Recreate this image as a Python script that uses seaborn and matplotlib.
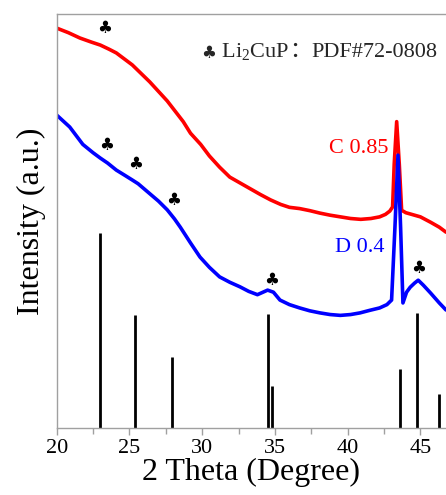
import numpy as np
import pandas as pd
import matplotlib
matplotlib.use("Agg")
import matplotlib.pyplot as plt
import seaborn as sns

# sample C 0.85 (red)
c_theta = [20.0, 20.8, 21.6, 22.4, 23.0, 23.6, 24.1, 25.2, 26.4, 27.6, 28.7, 29.2, 29.9, 30.5,
           31.2, 31.9, 32.6, 33.3, 34.0, 34.7, 35.4, 36.0, 36.7, 37.4, 38.1, 38.8, 39.5,
           40.2, 40.9, 41.6, 42.2, 42.6, 42.9, 43.09, 43.2, 43.37, 43.55, 43.71, 44.0,
           44.5, 45.0, 45.7, 46.3, 46.76]
c_int = [966, 955, 942, 932, 925, 915, 906, 877, 836, 790, 740, 712, 685, 657,
         630, 606, 592, 578, 564, 551, 540, 533, 530, 525, 519, 514, 510,
         506, 504, 506, 510, 516, 524, 534, 637, 740, 637, 526, 520,
         515, 510, 497, 485, 473]

# sample D 0.4 (blue)
d_theta = [20.0, 20.9, 21.8, 22.5, 23.0, 23.5, 24.1, 24.7, 25.2, 25.6, 26.4, 27.0, 27.6, 28.1,
           28.5, 29.2, 29.85, 30.5, 31.2, 31.9, 32.6, 33.2, 33.8, 34.5, 34.9, 35.35, 36.0,
           36.7, 37.4, 38.1, 38.8, 39.5, 40.2, 40.85, 41.5, 42.2, 42.7, 43.02, 43.25,
           43.46, 43.64, 43.8, 44.05, 44.3, 44.6, 44.85, 45.2, 45.7, 46.3, 46.76]
d_int = [756, 727, 685, 665, 652, 640, 623, 610, 599, 590, 566, 548, 527, 505,
         485, 447, 413, 388, 365, 352, 341, 330, 322, 333, 328, 309, 298,
         290, 283, 278, 274, 272, 274, 278, 284, 290, 298, 309, 484,
         659, 484, 302, 328, 340, 350, 357, 345, 326, 302, 285]

# Li2CuP reference pattern PDF#72-0808
ref_theta = [23.0, 25.4, 27.92, 34.5, 34.82, 43.6, 44.8, 46.3]
ref_int = [471, 273, 172, 275, 101, 142, 278, 82]

# club markers (angle, height)
club_theta = [23.3, 23.4, 25.4, 28.06, 34.8, 44.9]
club_int = [966, 684, 638, 551, 357, 387]

serif = "Liberation Serif"

fig = plt.figure(figsize=(4.46, 4.95), dpi=100)
ax = fig.add_axes([0.127, 0.1354, 0.873, 0.8363])
sns.set_style("white")

sns.lineplot(x=c_theta, y=c_int, color="#ff0000", lw=2.6, ax=ax)
sns.lineplot(x=d_theta, y=d_int, color="#0000ff", lw=2.6, ax=ax)
ax.vlines(ref_theta, 0, ref_int, color="black", lw=2.0)

for t, v in zip(club_theta, club_int):
    ax.text(t, v, "\u2663", ha="center", va="center", fontsize=12,
            family=["DejaVu Sans"], color="black")

ax.text(42.78, 676, "C 0.85", color="#ff0000", ha="right", va="center",
        fontsize=16, family=serif)
ax.text(42.5, 437, "D 0.4", color="#0000ff", ha="right", va="center",
        fontsize=16, family=serif)

# legend-like note
plt.rcParams["mathtext.fontset"] = "custom"
plt.rcParams["mathtext.rm"] = serif
plt.rcParams["mathtext.it"] = serif + ":italic"
t1 = ax.text(29.95, 893, "\u2663", ha="left", va="baseline", fontsize=12,
             family=["DejaVu Sans"])
t2 = ax.annotate(" Li$\\mathregular{_2}$CuP", xy=(1, 0), xycoords=t1, va="bottom",
                 fontsize=16, family=serif)
t3 = ax.annotate("\uff1a", xy=(1, 0), xycoords=t2, va="bottom", fontsize=16,
                 family=["Noto Sans CJK SC"])
ax.annotate("PDF#72-0808", xy=(1, 0), xycoords=t3, va="bottom", fontsize=16,
            family=serif)

ax.set_xlim(20, 46.76)
ax.set_ylim(0, 1000)
ax.set_xticks([20, 25, 30, 35, 40, 45])
ax.set_xticks(np.arange(22.5, 46, 5), minor=True)
ax.set_yticks([])
ax.tick_params(axis="x", which="major", direction="out", length=5, width=1,
               color="#a0a0a0", labelsize=16, pad=3)
ax.tick_params(axis="x", which="minor", direction="out", length=4, width=1,
               color="#a0a0a0")
for lab in ax.get_xticklabels():
    lab.set_family(serif)

for side in ["left", "top", "bottom"]:
    ax.spines[side].set_color("#a0a0a0")
    ax.spines[side].set_linewidth(1.0)
ax.spines["right"].set_visible(False)

ax.set_xlabel("2 Theta (Degree)", fontsize=23, family=serif, labelpad=0)
ax.set_ylabel("Intensity (a.u.)", fontsize=23, family=serif, labelpad=8)

fig.savefig("out.png", dpi=100)
